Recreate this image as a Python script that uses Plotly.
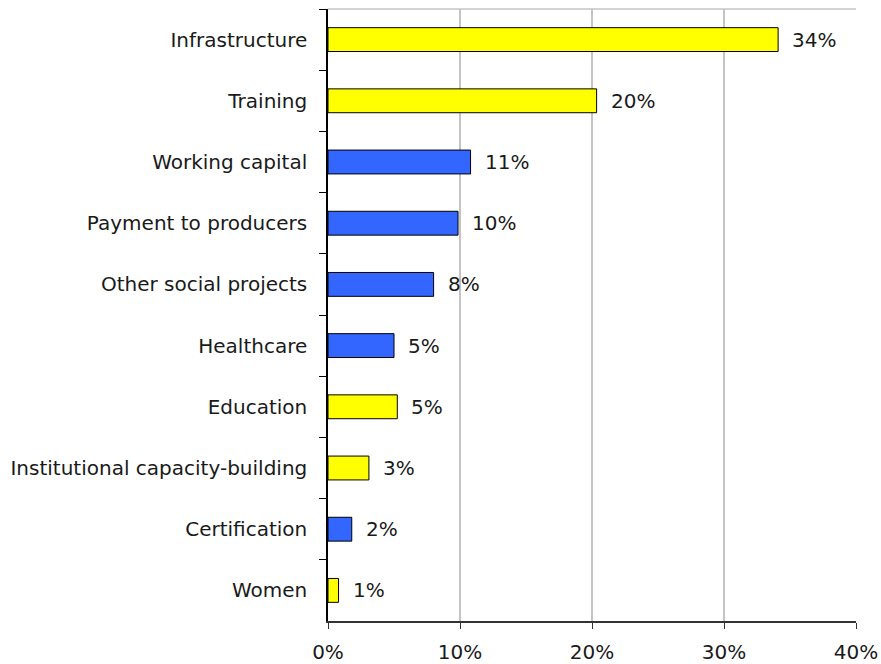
import plotly.graph_objects as go

# Share of funds by use category (percent)
categories = [
    "Infrastructure",
    "Training",
    "Working capital",
    "Payment to producers",
    "Other social projects",
    "Healthcare",
    "Education",
    "Institutional capacity-building",
    "Certification",
    "Women",
]
values = [34.1, 20.35, 10.8, 9.85, 8.0, 5.0, 5.25, 3.1, 1.8, 0.8]
groups = ["A", "A", "B", "B", "B", "B", "A", "A", "B", "A"]
x_ticks = [0, 10, 20, 30, 40]
x_tick_labels = ["0%", "10%", "20%", "30%", "40%"]

group_colors = {"A": "#FFFF00", "B": "#3366FF"}
FONT = "DejaVu Sans"
FONT_SIZE = 20
TEXT_COLOR = "#1a1a1a"
GRID = "#c4c4c4"

fig = go.Figure(
    go.Bar(
        x=values,
        y=categories,
        orientation="h",
        marker=dict(
            color=[group_colors[g] for g in groups],
            line=dict(color="black", width=1),
        ),
        hoverinfo="skip",
    )
)

# value labels to the right of each bar
for cat, v in zip(categories, values):
    fig.add_annotation(
        x=v, y=cat, xref="x", yref="y",
        text=f"{v:.0f}%", showarrow=False,
        xanchor="left", yanchor="middle", xshift=12,
        font=dict(family=FONT, size=FONT_SIZE, color=TEXT_COLOR),
    )

# light frame line along the top of the plot area
fig.add_shape(
    type="line", xref="paper", yref="paper",
    x0=0, x1=1, y0=1, y1=1,
    line=dict(color=GRID, width=1.5),
    layer="below",
)

fig.update_layout(
    width=881,
    height=664,
    margin=dict(l=328, r=25, t=9, b=43),
    paper_bgcolor="white",
    plot_bgcolor="white",
    bargap=0.61,
    showlegend=False,
    font=dict(family=FONT, size=FONT_SIZE, color=TEXT_COLOR),
)

fig.update_xaxes(
    range=[0, 40],
    tickvals=x_ticks,
    ticktext=x_tick_labels,
    showgrid=True,
    gridcolor=GRID,
    gridwidth=1.5,
    showline=True,
    linecolor="#333333",
    linewidth=2,
    ticks="outside",
    ticklen=6,
    tickcolor="#333333",
    ticklabelstandoff=6,
    zeroline=False,
    automargin=False,
    fixedrange=True,
)

fig.update_yaxes(
    autorange="reversed",
    showgrid=False,
    showline=True,
    linecolor="black",
    linewidth=1.5,
    ticks="outside",
    tickson="boundaries",
    ticklen=7,
    tickcolor="black",
    ticklabelstandoff=15,
    automargin=False,
    fixedrange=True,
)

fig.write_html("out.html")
